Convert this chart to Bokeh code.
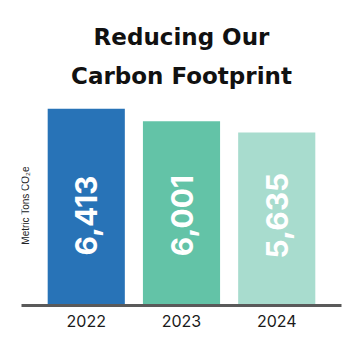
import math
from bokeh.plotting import figure
from bokeh.models import Range1d, FactorRange, Title, Label, ColumnDataSource
from bokeh.core.properties import value
from bokeh.embed import file_html
from bokeh.resources import INLINE

years = ["2022", "2023", "2024"]
emissions = [6413, 6001, 5635]
labels = ["6,413", "6,001", "5,635"]
colors = ["#2873B7", "#63C3A7", "#A8DCCE"]

src = ColumnDataSource(dict(year=years, val=emissions, lab=labels, col=colors,
                            ly=[2930] * len(years)))

p = figure(width=344, height=344, output_backend="svg", toolbar_location=None,
           x_range=FactorRange(factors=years, range_padding=0.12),
           y_range=Range1d(0, 6680),
           min_border_left=21, min_border_right=3, min_border_bottom=39, min_border_top=100)

p.vbar(x="year", top="val", width=0.81, source=src, fill_color="col", line_color=None)

p.text(x="year", y="ly", text="lab", source=src, angle=math.pi / 2,
       text_align="center", text_baseline="middle", text_color="white",
       text_font=value("Inter"), text_font_style="bold", text_font_size="30px")

p.add_layout(Label(x=-0.135, y=3260, text="Metric Tons CO\u2082e", angle=math.pi / 2,
                   text_align="center", text_baseline="middle",
                   text_font="Liberation Sans", text_font_size="10px", text_color="#222222"))

p.add_layout(Title(text="Carbon Footprint", align="center", text_font="DejaVu Sans",
                   text_font_style="bold", text_font_size="23px", text_color="#111111",
                   standoff=23), "above")
p.add_layout(Title(text="Reducing Our", align="center", text_font="DejaVu Sans",
                   text_font_style="bold", text_font_size="23px", text_color="#111111",
                   standoff=0), "above")

p.yaxis.visible = False
p.xgrid.visible = False
p.ygrid.visible = False
p.outline_line_color = None
p.xaxis.axis_line_color = "#5a5a5a"
p.xaxis.axis_line_width = 3
p.xaxis.major_tick_line_color = None
p.xaxis.minor_tick_line_color = None
p.xaxis.major_label_text_font = "Inter"
p.xaxis.major_label_text_font_size = "16px"
p.xaxis.major_label_text_color = "#1a1a1a"
p.xaxis.major_label_standoff = 3

open("out.html", "w").write(file_html(p, INLINE))
